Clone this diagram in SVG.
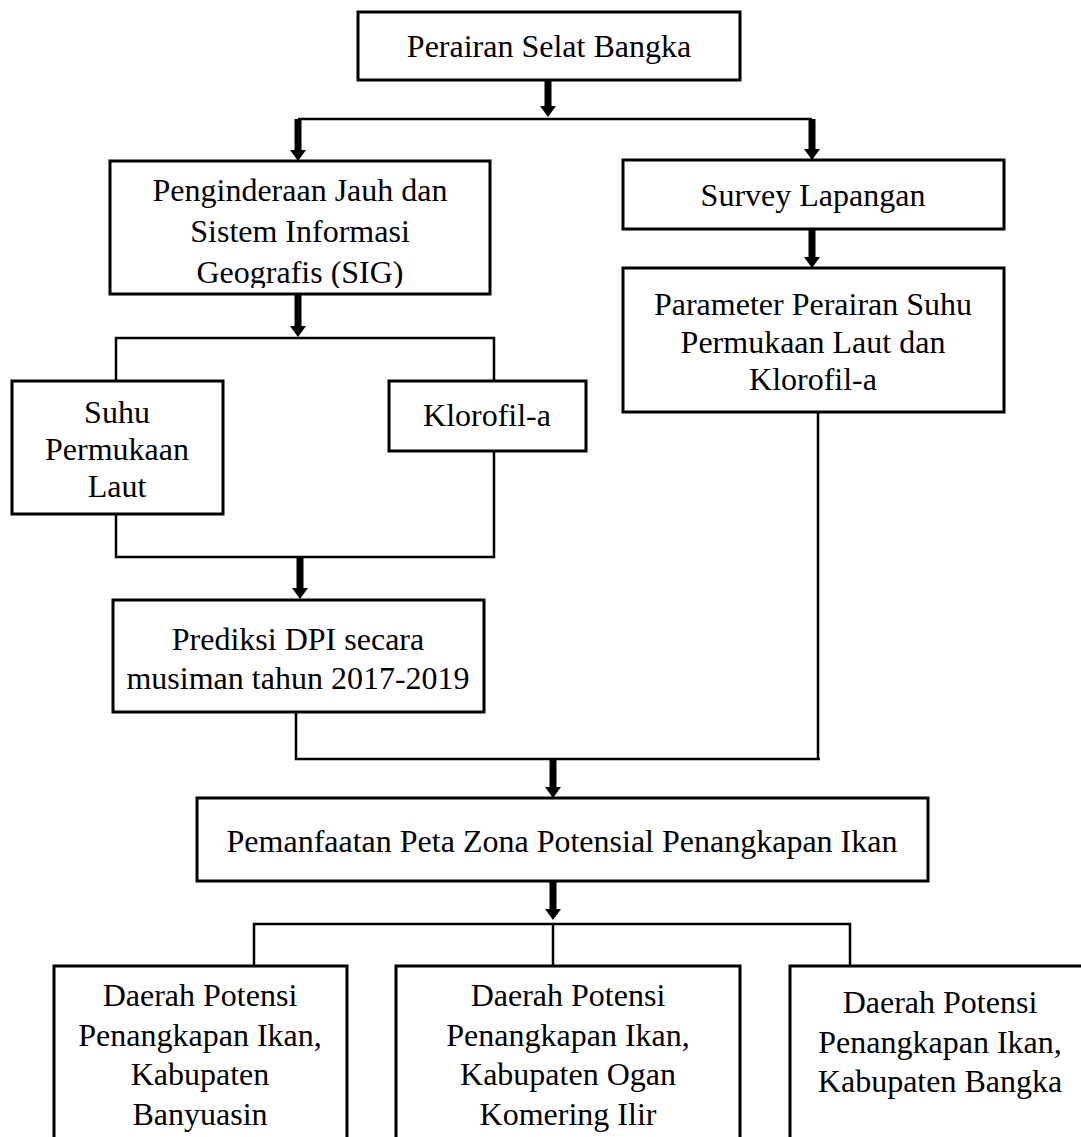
<svg xmlns="http://www.w3.org/2000/svg" width="1081" height="1137" viewBox="0 0 1081 1137">
<style>
  .box { fill: #ffffff; stroke: #000000; stroke-width: 3; }
  .t { font-family: "Liberation Serif", "Times New Roman", serif; font-size: 32px; fill: #000000; text-anchor: middle; }
  .ln { fill: none; stroke: #000000; stroke-width: 2.5; }
  .ar { fill: none; stroke: #000000; stroke-width: 7; marker-end: url(#head); }
</style>
<defs>
  <marker id="head" viewBox="0 0 11 16" refX="0" refY="8" markerWidth="11" markerHeight="16" markerUnits="userSpaceOnUse" orient="auto">
    <path d="M0,0 L11,8 L0,16 Z" fill="#000000"/>
  </marker>
  <clipPath id="clipPJ"><rect x="110" y="161" width="380" height="127"/></clipPath>
</defs>
<rect width="1081" height="1137" fill="#ffffff"/>

<g id="connectors">
  <line class="ar" x1="548" y1="80" x2="548" y2="106"/>
  <polyline class="ln" points="298,119 812,119"/>
  <line class="ar" x1="298" y1="119" x2="298" y2="150"/>
  <line class="ar" x1="812" y1="119" x2="812" y2="149"/>
  <line class="ar" x1="812" y1="229" x2="812" y2="257"/>
  <line class="ar" x1="298" y1="294" x2="298" y2="326"/>
  <polyline class="ln" points="116,381 116,338 494,338 494,381"/>
  <polyline class="ln" points="116,514 116,557 494,557 494,451"/>
  <line class="ar" x1="300" y1="557" x2="300" y2="588"/>
  <polyline class="ln" points="296,712 296,759 820,759"/>
  <line class="ln" x1="818" y1="412" x2="818" y2="759"/>
  <line class="ar" x1="553" y1="759" x2="553" y2="787"/>
  <line class="ar" x1="553" y1="881" x2="553" y2="909"/>
  <polyline class="ln" points="254,966 254,924 850,924 850,966"/>
  <line class="ln" x1="553" y1="924" x2="553" y2="966"/>
</g>

<g id="n-perairan">
  <rect class="box" x="358" y="12" width="382" height="68"/>
  <text class="t" x="549" y="57">Perairan Selat Bangka</text>
</g>

<g id="n-penginderaan">
  <rect class="box" x="110" y="161" width="380" height="133"/>
  <g clip-path="url(#clipPJ)">
    <text class="t" x="300" y="201">Penginderaan Jauh dan</text>
    <text class="t" x="300" y="242">Sistem Informasi</text>
    <text class="t" x="300" y="283">Geografis (SIG)</text>
  </g>
</g>

<g id="n-survey">
  <rect class="box" x="623" y="160" width="381" height="69"/>
  <text class="t" x="813" y="206">Survey Lapangan</text>
</g>

<g id="n-parameter">
  <rect class="box" x="623" y="268" width="381" height="144"/>
  <text class="t" x="813" y="315">Parameter Perairan Suhu</text>
  <text class="t" x="813" y="353">Permukaan Laut dan</text>
  <text class="t" x="813" y="390">Klorofil-a</text>
</g>

<g id="n-suhu">
  <rect class="box" x="12" y="381" width="211" height="133"/>
  <text class="t" x="117" y="423">Suhu</text>
  <text class="t" x="117" y="460">Permukaan</text>
  <text class="t" x="117" y="497">Laut</text>
</g>

<g id="n-klorofil">
  <rect class="box" x="389" y="381" width="197" height="70"/>
  <text class="t" x="487" y="426">Klorofil-a</text>
</g>

<g id="n-prediksi">
  <rect class="box" x="113" y="600" width="371" height="112"/>
  <text class="t" x="298" y="650">Prediksi DPI secara</text>
  <text class="t" x="298" y="689">musiman tahun 2017-2019</text>
</g>

<g id="n-pemanfaatan">
  <rect class="box" x="197" y="798" width="731" height="83"/>
  <text class="t" x="562" y="852">Pemanfaatan Peta Zona Potensial Penangkapan Ikan</text>
</g>

<g id="n-banyuasin">
  <rect class="box" x="54" y="966" width="293" height="190"/>
  <text class="t" x="200" y="1006">Daerah Potensi</text>
  <text class="t" x="200" y="1046">Penangkapan Ikan,</text>
  <text class="t" x="200" y="1085">Kabupaten</text>
  <text class="t" x="200" y="1125">Banyuasin</text>
</g>

<g id="n-oki">
  <rect class="box" x="396" y="966" width="344" height="190"/>
  <text class="t" x="568" y="1006">Daerah Potensi</text>
  <text class="t" x="568" y="1046">Penangkapan Ikan,</text>
  <text class="t" x="568" y="1085">Kabupaten Ogan</text>
  <text class="t" x="568" y="1125">Komering Ilir</text>
</g>

<g id="n-bangka">
  <rect class="box" x="790" y="966" width="300" height="190"/>
  <text class="t" x="940" y="1013">Daerah Potensi</text>
  <text class="t" x="940" y="1053">Penangkapan Ikan,</text>
  <text class="t" x="940" y="1092">Kabupaten Bangka</text>
</g>
</svg>
